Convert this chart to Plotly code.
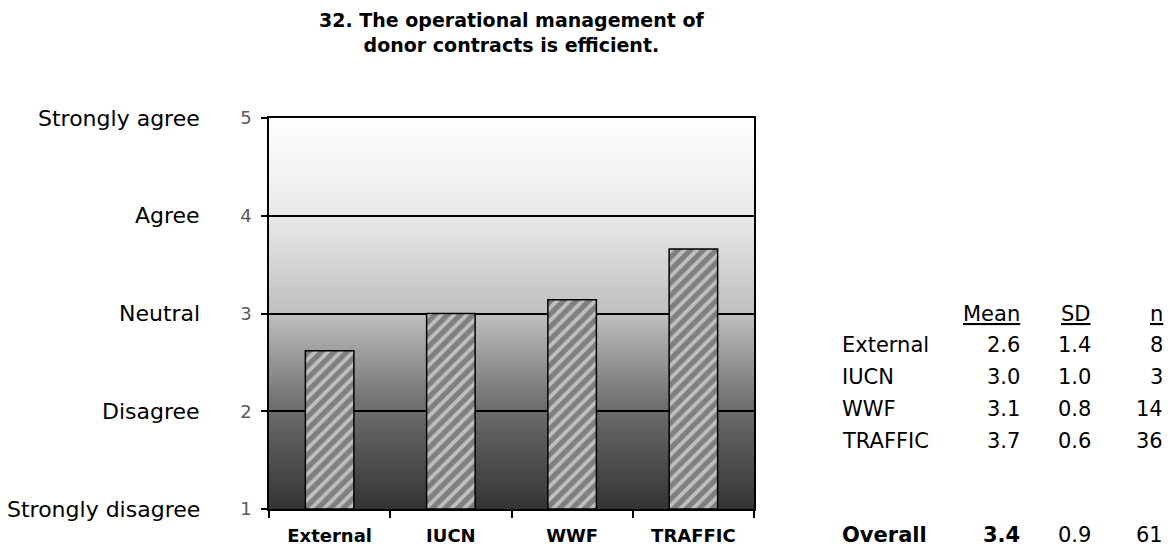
import base64
import plotly.graph_objects as go

# ---- data ----
title_lines = ["32. The operational management of", "donor contracts is efficient."]
categories = ["External", "IUCN", "WWF", "TRAFFIC"]
means = [2.62, 3.0, 3.14, 3.66]
table_means = ["2.6", "3.0", "3.1", "3.7"]
table_sd = ["1.4", "1.0", "0.8", "0.6"]
table_n = ["8", "3", "14", "36"]
overall = ["Overall", "3.4", "0.9", "61"]
scale_vals = [1, 2, 3, 4, 5]
scale_labels = ["Strongly disagree", "Disagree", "Neutral", "Agree", "Strongly agree"]
# background gradient stops (offset from top, colour)
grad_stops = [(0.0, "#ffffff"), (0.25, "#e9e9e9"), (0.5, "#bfbfbf"), (0.75, "#6b6b6b"), (1.0, "#333333")]

W, H = 1173, 548
L, R, T, B = 269, 754, 118, 509
pw, ph = R - L, B - T

def px_x(x):
    return (x - L) / pw

def px_y(y):
    return (B - y) / ph

stops = "".join(f'<stop offset="{o}" stop-color="{c}"/>' for o, c in grad_stops)
svg = (
    '<svg xmlns="http://www.w3.org/2000/svg" width="100" height="100" viewBox="0 0 100 100" preserveAspectRatio="none">'
    f'<defs><linearGradient id="g" x1="0" y1="0" x2="0" y2="1">{stops}</linearGradient></defs>'
    '<rect x="0" y="0" width="100" height="100" fill="url(#g)"/></svg>'
)
img_src = "data:image/svg+xml;base64," + base64.b64encode(svg.encode()).decode()

fig = go.Figure()
fig.add_trace(go.Bar(
    x=categories, y=[m - 1 for m in means], base=1,
    marker=dict(color="#7f7f7f", line=dict(color="black", width=1.5),
                pattern=dict(shape="/", fgcolor="white", bgcolor="#7f7f7f", size=9, solidity=0.42)),
    width=0.4, hoverinfo="skip",
))

font_main = "DejaVu Sans"
ann = []
ann.append(dict(text="<b>" + "<br>".join(title_lines) + "</b>", xref="paper", yref="paper",
                x=0.5, y=px_y(33), xanchor="center", yanchor="middle", showarrow=False,
                font=dict(family=font_main, size=19, color="black")))
for v, lab in zip(scale_vals, scale_labels):
    ann.append(dict(text=lab, xref="paper", yref="y", x=px_x(202), y=v, xanchor="right",
                    yanchor="middle", showarrow=False, font=dict(family=font_main, size=22, color="black")))

col_x = [px_x(840), px_x(1022), px_x(1093), px_x(1165)]
row_y = [px_y(345), px_y(377), px_y(409), px_y(441)]
tf = dict(family=font_main, size=21, color="black")
for txt, cx in zip(["Mean", "SD", "n"], col_x[1:]):
    ann.append(dict(text=f"<u>{txt}</u>", xref="paper", yref="paper", x=cx, y=px_y(314),
                    xanchor="right", yanchor="middle", showarrow=False, font=tf))
for i, cat in enumerate(categories):
    vals = [cat, table_means[i], table_sd[i], table_n[i]]
    for j, (txt, cx) in enumerate(zip(vals, col_x)):
        ann.append(dict(text=txt, xref="paper", yref="paper", x=cx, y=row_y[i],
                        xanchor="left" if j == 0 else "right", yanchor="middle",
                        showarrow=False, font=tf))
for j, (txt, cx) in enumerate(zip(overall, col_x)):
    t = f"<b>{txt}</b>" if j < 2 else txt
    ann.append(dict(text=t, xref="paper", yref="paper", x=cx, y=px_y(535),
                    xanchor="left" if j == 0 else "right", yanchor="middle",
                    showarrow=False, font=tf))

fig.update_layout(
    width=W, height=H,
    margin=dict(l=L, r=W - R, t=T, b=H - B, pad=0),
    paper_bgcolor="white", plot_bgcolor="white",
    showlegend=False, bargap=0.6,
    annotations=ann,
    images=[dict(source=img_src, xref="paper", yref="paper", x=0, y=1, sizex=1, sizey=1,
                 xanchor="left", yanchor="top", sizing="stretch", layer="below")],
    xaxis=dict(type="category", tickson="boundaries", ticks="outside", ticklen=7, tickwidth=1.5,
               tickcolor="black", showline=True, linecolor="black", linewidth=1.5, mirror=True,
               showgrid=False, tickfont=dict(family=font_main, size=18, color="black"),
               ticklabelstandoff=10,
               tickprefix="<b>", ticksuffix="</b>", fixedrange=True, automargin=False),
    yaxis=dict(range=[1, 5], tickvals=scale_vals, ticks="outside", ticklen=6, tickwidth=1.5,
               tickcolor="black", showline=True, linecolor="black", linewidth=1.5, mirror=True,
               showgrid=True, gridcolor="black", gridwidth=1.5, zeroline=False,
               ticklabelstandoff=6,
               tickfont=dict(family=font_main, size=18, color="#5a5a5a"), fixedrange=True,
               automargin=False),
)

fig.write_html("out.html", config={"displayModeBar": False},
               post_script="document.body.style.margin='0px';document.body.style.overflow='hidden';")
